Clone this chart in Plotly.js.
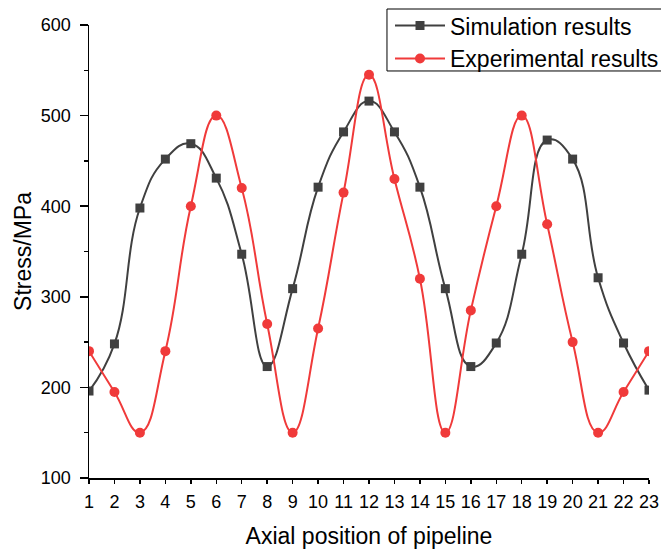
<!DOCTYPE html>
<html>
<head>
<meta charset="utf-8">
<script src="https://cdn.plot.ly/plotly-3.0.1.min.js"></script>
<style>html,body{margin:0;padding:0;background:#fff;}#chart{width:661px;height:549px;}</style>
</head>
<body>
<div id="chart"></div>
<script>
const positions = [1,2,3,4,5,6,7,8,9,10,11,12,13,14,15,16,17,18,19,20,21,22,23];
const simulation = [196,248,398,452,469,431,347,223,309,421,482,516,482,421,309,223,249,347,473,452,321,249,197];
const experimental = [240,195,150,240,400,500,420,270,150,265,415,545,430,320,150,285,400,500,380,250,150,195,240];
const evenTicks = positions.filter(v => v % 2 === 0);

const FONT = '"Liberation Sans", Arial, sans-serif';

const traces = [
  {
    x: positions, y: simulation, name: 'Simulation results',
    type: 'scatter', mode: 'lines+markers',
    line: {shape: 'spline', smoothing: 1.3, color: '#404040', width: 2},
    marker: {symbol: 'square', size: 9, color: '#404040'}
  },
  {
    x: positions, y: experimental, name: 'Experimental results',
    type: 'scatter', mode: 'lines+markers',
    line: {shape: 'spline', smoothing: 1.3, color: '#f03a3a', width: 2},
    marker: {symbol: 'circle', size: 10, color: '#f03a3a'}
  }
];

const layout = {
  width: 661, height: 549,
  margin: {l: 89, r: 12, t: 25, b: 71, autoexpand: false},
  paper_bgcolor: '#fff', plot_bgcolor: '#fff',
  font: {family: FONT, color: '#000', size: 18},
  showlegend: true,
  legend: {
    x: 0.5375, xanchor: 'left', y: 1.046, yanchor: 'top',
    borderwidth: 0, bgcolor: 'rgba(0,0,0,0)',
    font: {family: FONT, size: 23, color: '#000'},
    itemwidth: 50, tracegroupgap: 0
  },
  shapes: [
    {type: 'rect', xref: 'paper', yref: 'paper', x0: 0.5321, x1: 1.04, y0: 0.8985, y1: 1.0353,
     line: {color: '#000', width: 1}, fillcolor: '#fff', layer: 'above'}
  ],
  xaxis: {
    range: [1, 23], tickvals: positions, ticktext: positions.map(String),
    ticks: 'outside', ticklen: 4, tickwidth: 1.5, tickcolor: '#000',
    showline: true, linecolor: '#000', linewidth: 1.5,
    showgrid: false, zeroline: false, ticklabelstandoff: 3,
    tickfont: {family: FONT, size: 18, color: '#000'},
    title: {text: 'Axial position of pipeline', font: {family: FONT, size: 23, color: '#000'}, standoff: 17}
  },
  xaxis2: {
    overlaying: 'x', anchor: 'y', side: 'bottom', range: [1, 23],
    tickvals: evenTicks, showticklabels: false,
    ticks: 'outside', ticklen: 8, tickwidth: 1.5, tickcolor: '#000',
    showline: false, showgrid: false, zeroline: false
  },
  yaxis: {
    range: [100, 600], tick0: 100, dtick: 100,
    ticks: 'outside', ticklen: 8, tickwidth: 1.5, tickcolor: '#000',
    minor: {dtick: 50, ticks: 'outside', ticklen: 4, tickwidth: 1.5, tickcolor: '#000', showgrid: false},
    showline: true, linecolor: '#000', linewidth: 1.5,
    showgrid: false, zeroline: false, ticklabelstandoff: 5,
    tickfont: {family: FONT, size: 18, color: '#000'},
    title: {text: 'Stress/MPa', font: {family: FONT, size: 23, color: '#000'}, standoff: 3}
  }
};

Plotly.newPlot('chart', traces, layout, {displayModeBar: false, staticPlot: true});
</script>
</body>
</html>
